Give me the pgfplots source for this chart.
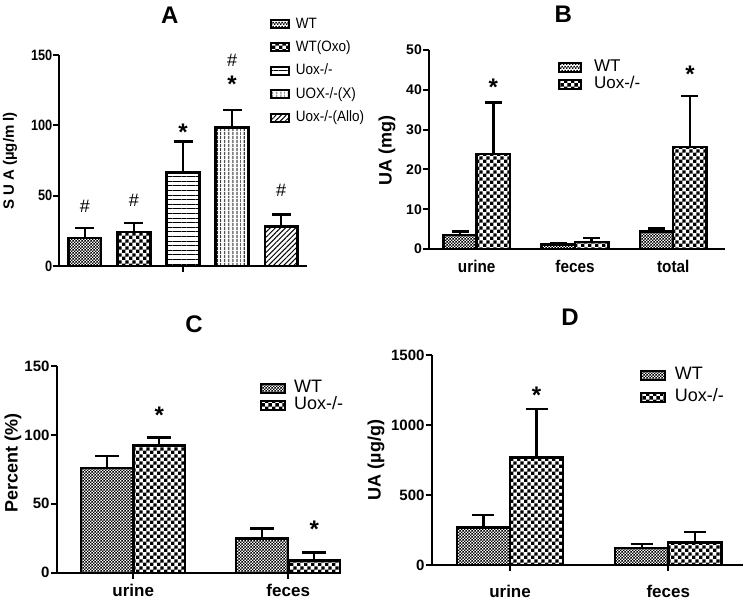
\documentclass[border=0pt]{standalone}
\usepackage{fontspec}
\setmainfont{Liberation Sans}
\usepackage{pgfplots}
\pgfplotsset{compat=1.18}
\usetikzlibrary{patterns,patterns.meta}

\pgfdeclarepatternformonly{finecheck}{\pgfpointorigin}{\pgfqpoint{3.4pt}{3.4pt}}{\pgfqpoint{3.4pt}{3.4pt}}{%
  \pgfpathrectangle{\pgfpointorigin}{\pgfqpoint{1.7pt}{1.7pt}}%
  \pgfpathrectangle{\pgfqpoint{1.7pt}{1.7pt}}{\pgfqpoint{1.7pt}{1.7pt}}%
  \pgfusepath{fill}}
\pgfdeclarepatternformonly{bigcheck}{\pgfpointorigin}{\pgfqpoint{6.8pt}{6.8pt}}{\pgfqpoint{6.8pt}{6.8pt}}{%
  \pgfpathrectangle{\pgfpointorigin}{\pgfqpoint{3.4pt}{3.4pt}}%
  \pgfpathrectangle{\pgfqpoint{3.4pt}{3.4pt}}{\pgfqpoint{3.4pt}{3.4pt}}%
  \pgfusepath{fill}}

\newcommand{\fs}[1]{\fontsize{#1}{#1}\selectfont}

\pgfplotsset{
  panel/.style={
    scale only axis, clip=false,
    axis x line=bottom, axis y line=left,
    axis line style={-, line width=2pt},
    tick style={line width=2pt, black},
    tick align=outside, major tick length=6pt,
    ymin=0,
    /pgf/number format/assume math mode=true,
    /pgf/number format/1000 sep={},
    scaled y ticks=false,
    yticklabel style={inner sep=1pt},
    legend cell align=left,
  },
  % #1 bar width, #2 pattern, #3 legend box width, #4 legend box half height, #5 cap half width
  bars/.style n args={5}{ybar, bar width=#1, bar shift=0, draw=black, line width=2.4pt, pattern=#2,
    legend image code/.code={\draw[pattern=#2, draw=black, line width=2pt] (0pt,-#4) rectangle (#3,#4);},
    /pgfplots/error bars/y dir=plus, /pgfplots/error bars/y explicit,
    /pgfplots/error bars/error bar style={line width=2.4pt, black},
    /pgfplots/error bars/error mark options={rotate=90, mark size=#5, line width=2.4pt, black}},
  ann/.style={draw=none, mark=none, forget plot, nodes near coords, point meta=explicit symbolic},
  star/.style={ann, nodes near coords style={anchor=center, inner sep=0pt, yshift=-5pt, font=\bfseries\fs{24}}},
  hash/.style={ann, nodes near coords style={anchor=center, inner sep=0pt, font=\fs{18}}},
  ttl/.style={title style={at={(axis description cs:#1)}, anchor=center, font=\bfseries\fs{24}}},
}

\begin{document}
\begin{tikzpicture}
\path[use as bounding box] (0pt,0pt) rectangle (750pt,-600pt);

% ---------------- A ----------------
\begin{axis}[panel,
  at={(59.3pt,-266pt)}, anchor=south west, width=247.4pt, height=211pt,
  xmin=-0.52, xmax=4.52, ymax=150,
  ytick={0,50,100,150}, xtick={2}, xticklabels={},
  yticklabel style={font=\bfseries\fs{15}, xscale=0.85},
  title={A}, ttl={0.447,1.162},
  ylabel={S U A (µg/m l)}, ylabel style={at={(axis description cs:-0.199,0.498)}, anchor=center, font=\bfseries\fs{15}},
  legend style={at={(axis description cs:0.85,1.18)}, anchor=north west, draw=none, fill=none,
    inner sep=0pt, outer sep=0pt, row sep=9.4pt,
    nodes={inner sep=0pt, inner xsep=7pt, text height=11pt, text depth=3pt, font=\fs{15}, xscale=0.9}},
]
\addplot[bars={0.67}{finecheck}{18pt}{4pt}{9.5pt}] coordinates {(0,19.9) +- (0,7.1)};
\addplot[bars={0.67}{bigcheck}{18pt}{4pt}{9.5pt}] coordinates {(1,24.2) +- (0,6.4)};
\addplot[bars={0.67}{{Lines[angle=0,distance=4.6pt,line width=1pt]}}{18pt}{4pt}{9.5pt}] coordinates {(2,66.4) +- (0,22.2)};
\addplot[bars={0.67}{{Lines[angle=90,distance=4pt,line width=1pt]}}{18pt}{4pt}{9.5pt}] coordinates {(3,98.6) +- (0,12.1)};
\addplot[bars={0.67}{{Lines[angle=45,distance=3.6pt,line width=1pt]}}{18pt}{4pt}{9.5pt}] coordinates {(4,28.2) +- (0,8.5)};
\legend{WT, WT(Oxo), Uox-/-, UOX-/-(X), Uox-/-(Allo)}
\addplot[hash] coordinates {(0,42.2)[\#] (1,46.9)[\#] (3,146.4)[\#] (4,53.5)[\#]};
\addplot[star] coordinates {(2,98.3)[*] (3,132.7)[*]};
\end{axis}

% ---------------- B ----------------
\begin{axis}[panel,
  at={(429pt,-249pt)}, anchor=south west, width=296pt, height=199pt,
  xmin=-0.485, xmax=2.526, ymax=50,
  ytick={0,10,20,30,40,50}, xtick={0,1,2}, xticklabels={urine,feces,total},
  x tick style={draw=none},
  yticklabel style={font=\bfseries\fs{14}},
  xticklabel style={font=\bfseries\fs{17}, xscale=0.9, yshift=-2pt},
  title={B}, ttl={0.454,1.15},
  ylabel={UA (mg)}, ylabel style={at={(axis description cs:-0.142,0.497)}, anchor=center, font=\bfseries\fs{18}},
  legend style={at={(axis description cs:0.436,0.95)}, anchor=north west, draw=none, fill=none,
    inner sep=0pt, outer sep=0pt, row sep=2.5pt,
    nodes={inner sep=0pt, inner xsep=12pt, text height=11.5pt, text depth=3.5pt, font=\fs{17}}},
]
\addplot[bars={0.339}{finecheck}{22pt}{4.5pt}{8.5pt}] coordinates {(-0.1695,3.5) +- (0,0.9) (0.8305,1.1) +- (0,0.4) (1.8305,4.4) +- (0,0.8)};
\addplot[bars={0.339}{bigcheck}{22pt}{4.5pt}{8.5pt}] coordinates {(0.1695,23.9) +- (0,12.9) (1.1695,1.7) +- (0,1.0) (2.1695,25.7) +- (0,12.7)};
\legend{WT, Uox-/-}
\addplot[star] coordinates {(0.17,42.0)[*] (2.17,45.1)[*]};
\end{axis}

% ---------------- C ----------------
\begin{axis}[panel,
  at={(56.7pt,-572.7pt)}, anchor=south west, width=283.3pt, height=206.7pt,
  xmin=-0.494, xmax=1.334, ymax=150,
  ytick={0,50,100,150}, xtick={0,1}, xticklabels={urine,feces},
  yticklabel style={font=\bfseries\fs{15}},
  xticklabel style={font=\bfseries\fs{17}, inner sep=0pt, yshift=-5.5pt},
  title={C}, ttl={0.485,1.172},
  ylabel={Percent (\%)}, ylabel style={at={(axis description cs:-0.154,0.531)}, anchor=center, font=\bfseries\fs{18}},
  legend style={at={(axis description cs:0.718,0.93)}, anchor=north west, draw=none, fill=none,
    inner sep=0pt, outer sep=0pt, row sep=1.3pt,
    nodes={inner sep=0pt, inner xsep=8pt, text height=12pt, text depth=3.5pt, font=\fs{18}}},
]
\addplot[bars={0.335}{finecheck}{24pt}{4.5pt}{12pt}] coordinates {(-0.168,76.2) +- (0,8.5) (0.832,24.9) +- (0,7.3)};
\addplot[bars={0.335}{bigcheck}{24pt}{4.5pt}{12pt}] coordinates {(0.168,92.4) +- (0,5.8) (1.168,9.0) +- (0,5.8)};
\legend{WT, Uox-/-}
\addplot[star] coordinates {(0.168,118)[*] (1.168,35.3)[*]};
\end{axis}

% ---------------- D ----------------
\begin{axis}[panel,
  at={(431.7pt,-565pt)}, anchor=south west, width=311.3pt, height=210pt,
  xmin=-0.495, xmax=1.472, ymax=1500,
  ytick={0,500,1000,1500}, xtick={0,1}, xticklabels={urine,feces},
  yticklabel style={font=\bfseries\fs{15}},
  xticklabel style={font=\bfseries\fs{17}, inner sep=0pt, yshift=-13.5pt},
  title={D}, ttl={0.444,1.152},
  ylabel={UA (µg/g)}, ylabel style={at={(axis description cs:-0.179,0.5)}, anchor=center, font=\bfseries\fs{18}},
  legend style={at={(axis description cs:0.669,0.94)}, anchor=north west, draw=none, fill=none,
    inner sep=0pt, outer sep=0pt, row sep=6.5pt,
    nodes={inner sep=0pt, inner xsep=9pt, text height=12pt, text depth=3.5pt, font=\fs{18}}},
]
\addplot[bars={0.337}{finecheck}{24pt}{4.5pt}{11pt}] coordinates {(-0.168,267) +- (0,90) (0.832,121) +- (0,27)};
\addplot[bars={0.337}{bigcheck}{24pt}{4.5pt}{11pt}] coordinates {(0.168,769) +- (0,345) (1.168,160) +- (0,76)};
\legend{WT, Uox-/-}
\addplot[star] coordinates {(0.168,1245)[*]};
\end{axis}
\end{tikzpicture}
\end{document}
